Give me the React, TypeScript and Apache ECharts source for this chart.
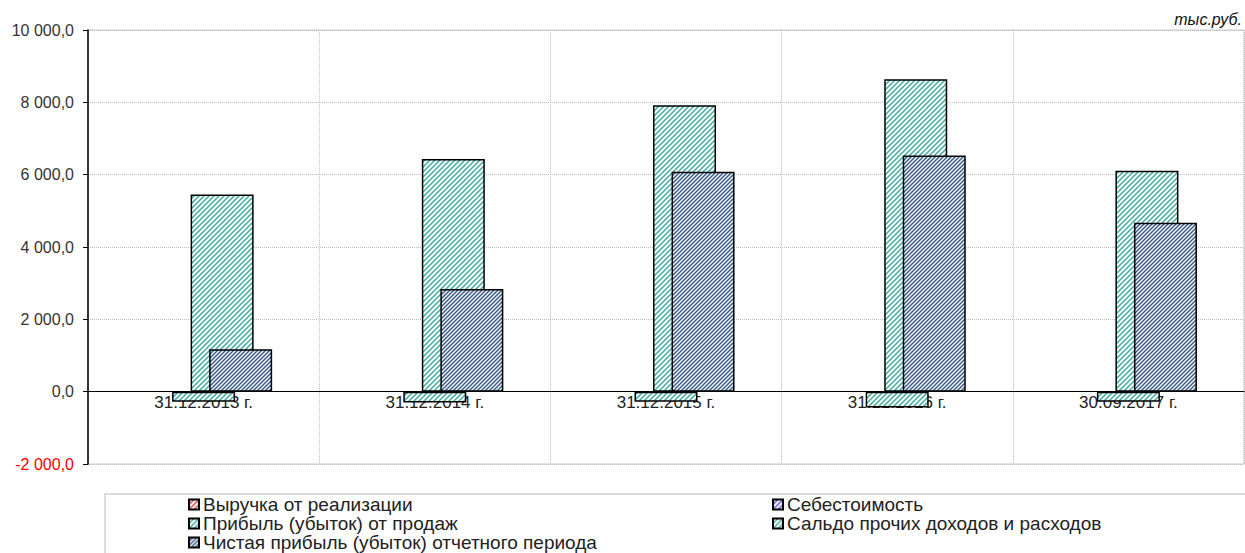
import React, { useEffect, useRef } from "react";
import * as echarts from "echarts";

const categories = ["31.12.2013 г.", "31.12.2014 г.", "31.12.2015 г.", "31.12.2016 г.", "30.09.2017 г."];
const revenue: (number | null)[] = [null, null, null, null, null];
const costs: (number | null)[] = [null, null, null, null, null];
const otherBalance = [-280, -300, -280, -440, -280];
const salesProfit = [5450, 6430, 7920, 8640, 6110];
const netProfit = [1170, 2840, 6080, 6530, 4670];

const legendLeft = ["Выручка от реализации", "Прибыль (убыток) от продаж", "Чистая прибыль (убыток) отчетного периода"];
const legendRight = ["Себестоимость", "Сальдо прочих доходов и расходов"];

const FONT = "Liberation Sans, Arial, sans-serif";

function fmt(v: number): string {
  const neg = v < 0;
  const s = Math.abs(v).toFixed(1).replace(".", ",");
  const [i, d] = s.split(",");
  const withSp = i.replace(/\B(?=(\d{3})+(?!\d))/g, " ");
  return (neg ? "-" : "") + withSp + "," + d;
}

function hatchPattern(color: string, size: number, lw: number) {
  const scale = 4;
  const c = document.createElement("canvas");
  c.width = size * scale;
  c.height = size * scale;
  const ctx = c.getContext("2d")!;
  ctx.fillStyle = "#ffffff";
  ctx.fillRect(0, 0, c.width, c.height);
  ctx.strokeStyle = color;
  ctx.lineWidth = lw * scale;
  const S = size * scale;
  const seg = (x1: number, y1: number, x2: number, y2: number) => {
    ctx.beginPath();
    ctx.moveTo(x1, y1);
    ctx.lineTo(x2, y2);
    ctx.stroke();
  };
  // "/" direction: bottom-left to top-right
  seg(-S * 0.5, S * 1.5, S * 1.5, -S * 0.5);
  seg(-S * 0.5, S * 0.5, S * 0.5, -S * 0.5);
  seg(S * 0.5, S * 1.5, S * 1.5, S * 0.5);
  return {
    image: c,
    repeat: "repeat",
    imageWidth: size,
    imageHeight: size,
  };
}

export default function App() {
  const ref = useRef<HTMLDivElement>(null);
  useEffect(() => {
    if (!ref.current) return;
    const chart = echarts.init(ref.current, undefined, { renderer: "svg" });
    const mk = (name: string, data: (number | null)[], col: string, size: number, lw: number) => ({
      type: "bar",
      barWidth: 63,
      barGap: "-70.6%",
      name,
      data,
      itemStyle: {
        color: hatchPattern(col, size, lw),
        borderColor: "#000000",
        borderWidth: 1.5,
      },
    });
    const legendCommon = {
      orient: "vertical",
      top: 495,
      padding: 0,
      itemWidth: 10,
      itemHeight: 10,
      itemGap: 0,
      icon: "rect",
      textStyle: { fontSize: 19, lineHeight: 19, color: "#222", fontFamily: FONT, padding: [0, 0, 0, -1] },
    };
    chart.setOption({
      animation: false,
      textStyle: { fontFamily: FONT },
      grid: {
        left: 88,
        right: 1,
        top: 30,
        bottom: 89,
        show: true,
        borderColor: "#c8c8c8",
        borderWidth: 1,
      },
      xAxis: {
        type: "category",
        data: categories,
        offset: -72.33,
        axisLine: { onZero: false, lineStyle: { color: "#000", width: 1 } },
        axisTick: { show: false },
        axisLabel: { color: "#222", fontSize: 17, margin: 2, fontFamily: FONT },
        splitLine: { show: true, interval: 0, lineStyle: { color: "#bdbdbd", type: "dotted" } },
      },
      yAxis: {
        type: "value",
        min: -2000,
        max: 10000,
        interval: 2000,
        axisLine: { show: true, lineStyle: { color: "#000", width: 1.5 } },
        axisTick: { show: true, inside: false, length: 5, lineStyle: { color: "#000" } },
        axisLabel: {
          fontSize: 16,
          margin: 14,
          fontFamily: FONT,
          formatter: (v: number) => fmt(v),
          color: (v: any) => (Number(v) < 0 ? "#ff0000" : "#333333"),
        },
        splitLine: { show: true, lineStyle: { color: "#bdbdbd", type: "dotted" } },
      },
      legend: [
        { ...legendCommon, data: legendLeft, left: 188 },
        { ...legendCommon, data: legendRight, left: 772 },
      ],
      graphic: [
        {
          type: "rect",
          shape: { x: 105, y: 494, width: 1145, height: 80 },
          style: { fill: "none", stroke: "#d0d0d0", lineWidth: 1.5 },
          silent: true,
        },
        {
          type: "text",
          right: 3,
          top: 11,
          style: {
            text: "тыс.руб.",
            font: "italic 16px Liberation Sans, Arial, sans-serif",
            fill: "#111",
          },
        },
      ],
      series: [
        mk("Выручка от реализации", revenue, "#d04848", 5, 1.5),
        mk("Себестоимость", costs, "#5a5acc", 5, 1.5),
        mk("Сальдо прочих доходов и расходов", otherBalance, "#45ada4", 5, 1.5),
        mk("Прибыль (убыток) от продаж", salesProfit, "#45ada4", 5, 1.5),
        mk("Чистая прибыль (убыток) отчетного периода", netProfit, "#3e5f8e", 4, 1.5),
      ],
    });
    return () => chart.dispose();
  }, []);
  return (
    <div
      ref={ref}
      style={{ position: "fixed", left: 0, top: 0, width: 1245, height: 553, background: "#fff" }}
    />
  );
}
